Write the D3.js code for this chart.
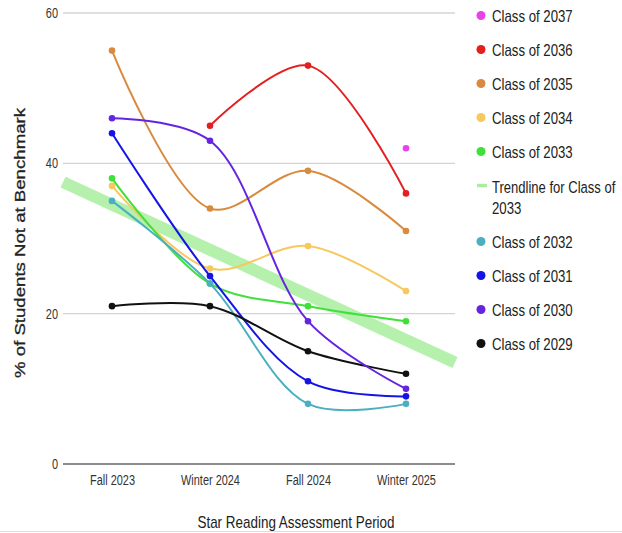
<!DOCTYPE html>
<html><head><meta charset="utf-8">
<script src="https://cdn.jsdelivr.net/npm/d3@7"></script>
<style>
html,body{margin:0;padding:0;background:#fff;}
svg{display:block;}
</style></head>
<body>
<svg id="chart" width="622" height="533"></svg>
<script>
const periods = ["Fall 2023", "Winter 2024", "Fall 2024", "Winter 2025"];
const yTicks = [0, 20, 40, 60];
const class2037 = [null, null, null, 42];
const class2036 = [null, 45, 53, 36];
const class2035 = [55, 34, 39, 31];
const class2034 = [37, 26, 29, 23];
const class2033 = [38, 24, 21, 19];
const class2032 = [35, 24, 8, 8];
const class2031 = [44, 25, 11, 9];
const class2030 = [46, 43, 19, 10];
const class2029 = [21, 21, 15, 12];
const seriesNames = ["Class of 2037","Class of 2036","Class of 2035","Class of 2034","Class of 2033","Class of 2032","Class of 2031","Class of 2030","Class of 2029"];
const seriesColors = ["#e843e8","#e3201f","#d98a3f","#f7c85e","#3fe03a","#4aafc0","#1414e6","#6424e0","#111111"];
const seriesValues = [class2037,class2036,class2035,class2034,class2033,class2032,class2031,class2030,class2029];
const trendName = "Trendline for Class of 2033";
const trendColor = "#a8ee9f";

const svg = d3.select("#chart");
const pLeft = 63, pRight = 455, pTop = 13, pBottom = 464;
const x = d3.scalePoint().domain(periods).range([pLeft, pRight]).padding(0.5);
const y = d3.scaleLinear().domain([0, 60]).range([pBottom, pTop]);
const font = "'Liberation Sans', Arial, Helvetica, sans-serif";

// condense text horizontally to mimic a narrow face
function condense(sel, factor) {
  sel.each(function() {
    const w = this.getComputedTextLength();
    d3.select(this).attr("textLength", w * factor).attr("lengthAdjust", "spacingAndGlyphs");
  });
}
// condensed text via a scaled group (keeps the bounding box honest)
function narrowText(parent, tx, ty, size, txt, sx) {
  return parent.append("g").attr("transform", `translate(${tx},${ty}) scale(${sx},1)`)
    .append("text").attr("x", 0).attr("y", 0).attr("font-family", font)
    .attr("font-size", size).attr("fill", "#222").text(txt);
}

// gridlines
svg.append("g").selectAll("line").data(yTicks.filter(d => d > 0)).join("line")
  .attr("x1", pLeft).attr("x2", pRight).attr("y1", d => y(d)).attr("y2", d => y(d))
  .attr("stroke", "#d4d4d4").attr("stroke-width", 1.3);
// baseline
svg.append("line").attr("x1", pLeft).attr("x2", pRight).attr("y1", y(0)).attr("y2", y(0))
  .attr("stroke", "#666").attr("stroke-width", 1.4);

// y tick labels
const yAxis = d3.axisLeft(y).tickValues(yTicks).tickSize(0).tickPadding(5);
const ga = svg.append("g").attr("transform", `translate(${pLeft},0)`).call(yAxis);
ga.select(".domain").remove();
ga.selectAll("text").attr("font-family", font).attr("font-size", 14).attr("fill", "#333")
  .call(condense, 0.78);

// x tick labels
const xAxis = d3.axisBottom(x).tickSize(0).tickPadding(11);
const gx = svg.append("g").attr("transform", `translate(0,${pBottom})`).call(xAxis);
gx.select(".domain").remove();
gx.selectAll("text").attr("font-family", font).attr("font-size", 14).attr("fill", "#333")
  .call(condense, 0.78);

// axis titles
svg.append("text").attr("x", 296).attr("y", 528)
  .attr("text-anchor", "middle").attr("font-family", font).attr("font-size", 17).attr("fill", "#222")
  .text("Star Reading Assessment Period").call(condense, 0.79);
svg.append("text").attr("transform", "translate(25,243) rotate(-90)")
  .attr("text-anchor", "middle").attr("font-family", font)
  .attr("font-size", 15).attr("fill", "#222").attr("stroke", "#222").attr("stroke-width", 0.3)
  .text("% of Students Not at Benchmark")
  .each(function() { d3.select(this).attr("textLength", 270).attr("lengthAdjust", "spacingAndGlyphs"); });

// trendline (linear regression on Class of 2033), spanning the plot width
const xs = [1, 2, 3, 4];
const ys = class2033;
const mx = d3.mean(xs), my = d3.mean(ys);
const slope = d3.sum(xs.map((v, i) => (v - mx) * (ys[i] - my))) / d3.sum(xs.map(v => (v - mx) ** 2));
const icpt = my - slope * mx;
const step = x.step();
const idxToPx = i => x(periods[0]) + (i - 1) * step;
svg.append("line")
  .attr("x1", idxToPx(0.5)).attr("y1", y(icpt + slope * 0.5))
  .attr("x2", idxToPx(4.5)).attr("y2", y(icpt + slope * 4.5))
  .attr("stroke", trendColor).attr("stroke-width", 12).attr("stroke-opacity", 0.85);

// lines
const line = d3.line()
  .defined(d => d.v != null)
  .x(d => x(d.p)).y(d => y(d.v))
  .curve(d3.curveCatmullRom.alpha(0.5));

const order = [2, 3, 4, 5, 6, 8, 7, 1, 0];
order.forEach(si => {
  const data = periods.map((p, i) => ({p, v: seriesValues[si][i]}));
  const c = seriesColors[si];
  svg.append("path").datum(data).attr("d", line)
    .attr("fill", "none").attr("stroke", c).attr("stroke-width", 2);
  svg.append("g").selectAll("circle").data(data.filter(d => d.v != null)).join("circle")
    .attr("cx", d => x(d.p)).attr("cy", d => y(d.v)).attr("r", 3.3).attr("fill", c);
});

// legend
const legendItems = [];
seriesNames.forEach((n, i) => {
  legendItems.push({name: n, color: seriesColors[i], trend: false});
  if (i === 4) legendItems.push({name: trendName, color: trendColor, trend: true});
});
let ly = 15.5;
legendItems.forEach(it => {
  const g = svg.append("g");
  if (it.trend) {
    g.append("line").attr("x1", 477).attr("x2", 487).attr("y1", ly).attr("y2", ly)
      .attr("stroke", it.color).attr("stroke-width", 3.5);
    const words = it.name.split(" ");
    narrowText(g, 492, ly + 7, 16.5, words.slice(0, -1).join(" "), 0.79);
    narrowText(g, 492, ly + 28, 16.5, words[words.length - 1], 0.8);
    ly += 56;
  } else {
    g.append("circle").attr("cx", 481).attr("cy", ly).attr("r", 4.5).attr("fill", it.color);
    narrowText(g, 492, ly + 6, 16.5, it.name, 0.8);
    ly += 34;
  }
});

// bottom border
svg.append("line").attr("x1", 0).attr("x2", 622).attr("y1", 531.5).attr("y2", 531.5)
  .attr("stroke", "#ddd").attr("stroke-width", 1);
</script>
</body></html>
